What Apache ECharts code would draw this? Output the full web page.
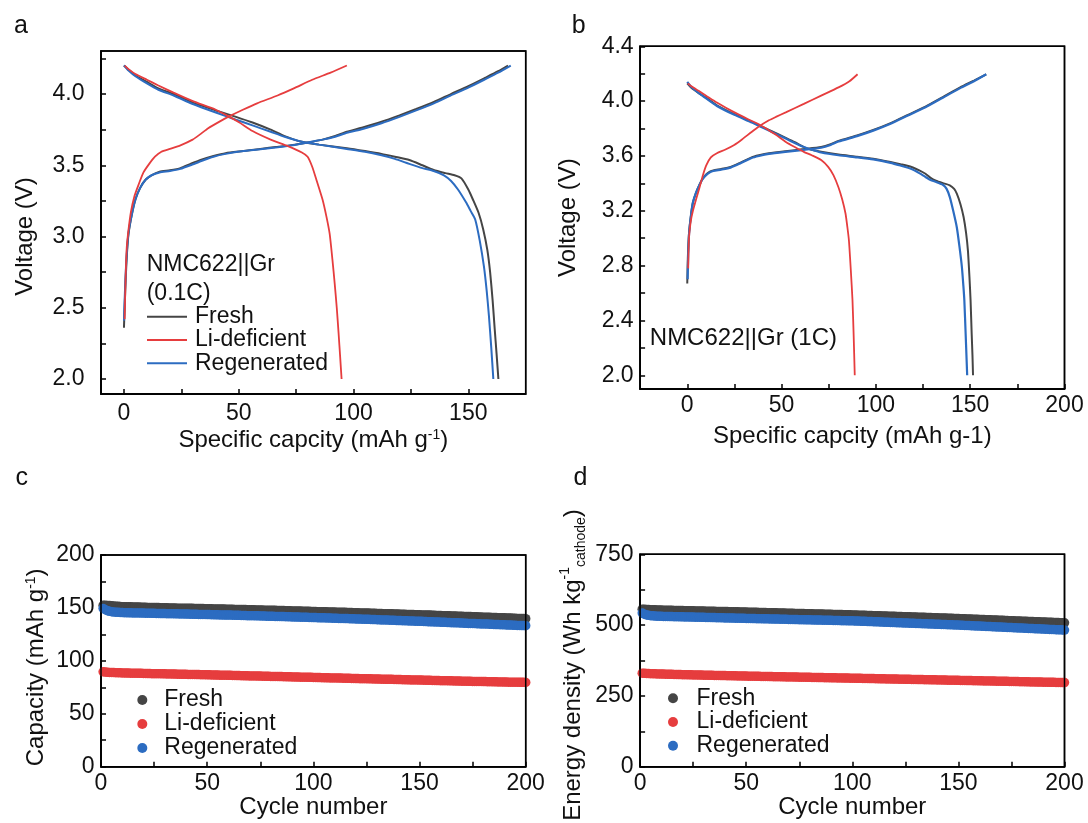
<!DOCTYPE html>
<html>
<head>
<meta charset="utf-8">
<script src="https://cdn.jsdelivr.net/npm/echarts@6/dist/echarts.min.js"></script>
<style>
  html, body { margin: 0; padding: 0; background: #fff; }
  #wrap { position: relative; width: 1088px; height: 823px; }
  #main, #boxes { position: absolute; left: 0; top: 0; width: 1088px; height: 823px; }
  #boxes { pointer-events: none; }
</style>
</head>
<body>
<div id="wrap">
  <div id="main"></div>
  <div id="boxes"></div>
</div>
<script>
// ---- series names, colours ----
const seriesNames = ['Fresh', 'Li-deficient', 'Regenerated'];
const seriesColors = { 'Fresh': '#454545', 'Li-deficient': '#e63d3e', 'Regenerated': '#2c6cc1' };

// ---- panel a: voltage profiles at 0.1C, [capacity mAh/g, voltage V] ----
const aFreshCharge = [[0,2.36],[0.4,2.55],[0.8,2.72],[1.3,2.88],[2,3.02],[3.5,3.16],[5,3.26],[7,3.34],[9.5,3.40],[12,3.43],[15.5,3.455],[20,3.465],[24.6,3.48],[29,3.51],[33.7,3.54],[39,3.565],[44.3,3.585],[52,3.6],[59.4,3.615],[67,3.63],[74.4,3.645],[80,3.66],[86.5,3.68],[92,3.705],[97.1,3.735],[104,3.765],[112.2,3.805],[120,3.85],[127.3,3.895],[135,3.945],[142.4,4.0],[150,4.055],[157.5,4.115],[163,4.16],[167.3,4.2]];
const aRegenCharge = [[0,2.41],[0.4,2.6],[0.8,2.76],[1.3,2.9],[2,3.03],[3.5,3.16],[5,3.26],[7,3.34],[9.5,3.40],[12,3.43],[15.5,3.45],[20,3.46],[24.6,3.475],[29,3.5],[33.7,3.53],[39,3.56],[44.3,3.58],[52,3.6],[59.4,3.612],[67,3.627],[74.4,3.643],[80,3.66],[86.5,3.68],[92,3.7],[97.1,3.728],[104,3.755],[112.2,3.795],[120,3.84],[127.3,3.885],[135,3.935],[142.4,3.99],[150,4.045],[157.5,4.105],[163,4.15],[168.5,4.2]];
const aLiDefCharge = [[0.3,2.42],[0.7,2.7],[1.2,2.92],[2,3.05],[3,3.17],[4.5,3.28],[6.5,3.37],[8.5,3.45],[11,3.51],[13.5,3.56],[16.3,3.595],[20,3.615],[24.6,3.64],[29.9,3.68],[33,3.715],[36.7,3.76],[42,3.81],[46,3.845],[51.8,3.89],[58,3.935],[66.9,3.99],[74,4.04],[82,4.1],[90,4.15],[97.1,4.2]];
const aFreshDischarge = [[0,4.2],[2,4.17],[5,4.13],[10,4.085],[15,4.04],[21.6,4.0],[30,3.94],[40,3.885],[48.8,3.84],[56,3.8],[63.9,3.75],[70,3.705],[77.5,3.665],[85,3.645],[97.1,3.62],[105,3.6],[112.2,3.58],[118,3.56],[124.3,3.537],[130,3.5],[134.9,3.467],[140,3.445],[144,3.43],[147,3.408],[150,3.33],[152,3.26],[154.5,3.165],[156.5,3.05],[158.3,2.905],[159.5,2.75],[160.6,2.55],[161.5,2.35],[162.3,2.18],[163.1,2.0]];
const aRegenDischarge = [[0,4.2],[2,4.165],[5,4.125],[10,4.075],[15,4.03],[21.6,3.99],[30,3.93],[40,3.87],[48.8,3.82],[56,3.78],[63.9,3.735],[70,3.7],[77.5,3.665],[85,3.645],[97.1,3.615],[105,3.595],[112.2,3.57],[118,3.545],[124.3,3.51],[130,3.48],[134.9,3.46],[139.4,3.43],[142.5,3.39],[145.5,3.33],[149,3.24],[151,3.18],[153,3.12],[155,2.97],[156.8,2.79],[158,2.62],[159,2.44],[160,2.22],[160.9,2.0]];
const aLiDefDischarge = [[0.3,4.2],[2,4.175],[5,4.14],[10,4.1],[15,4.06],[21.6,4.01],[30,3.95],[40,3.89],[46,3.84],[50.3,3.8],[56,3.74],[63.9,3.68],[71.4,3.635],[77.5,3.59],[80,3.56],[82,3.49],[84,3.39],[86.5,3.26],[88.2,3.14],[89.6,3.02],[90.8,2.84],[91.8,2.67],[92.7,2.5],[93.5,2.32],[94.2,2.15],[94.8,2.0]];

// ---- panel b: voltage profiles at 1C ----
const bFreshCharge = [[0,2.67],[0.3,2.85],[0.9,3.03],[2,3.17],[3,3.26],[4.6,3.33],[6.5,3.39],[8,3.43],[10,3.465],[12,3.485],[13.8,3.495],[18,3.505],[23,3.52],[28,3.55],[34.1,3.59],[38,3.605],[43.3,3.62],[52,3.635],[61.8,3.65],[71,3.665],[76,3.685],[80.2,3.71],[90,3.75],[98.6,3.79],[107.8,3.84],[117,3.9],[126.3,3.96],[135.5,4.03],[144.7,4.1],[152,4.15],[158.5,4.196]];
const bRegenCharge = [[0.2,2.7],[0.5,2.88],[1,3.04],[2,3.17],[3,3.26],[4.6,3.33],[6.5,3.39],[8,3.43],[10,3.46],[12,3.48],[13.8,3.49],[18,3.5],[23,3.515],[28,3.545],[34.1,3.585],[38,3.6],[43.3,3.615],[52,3.63],[61.8,3.645],[71,3.66],[76,3.68],[80.2,3.705],[90,3.745],[98.6,3.785],[107.8,3.835],[117,3.895],[126.3,3.955],[135.5,4.025],[144.7,4.095],[152,4.145],[158.5,4.196]];
const bLiDefCharge = [[0.5,2.78],[0.9,3.0],[1.8,3.12],[3,3.2],[4.6,3.28],[6.5,3.37],[8.3,3.46],[10,3.53],[12.5,3.59],[15.7,3.62],[20,3.645],[24.9,3.68],[29,3.72],[34.1,3.775],[38,3.815],[43.3,3.86],[47,3.885],[52.5,3.92],[61.8,3.98],[71,4.04],[80.2,4.1],[86,4.145],[90.3,4.196]];
const bFreshDischarge = [[0,4.13],[2,4.1],[6.5,4.055],[10,4.025],[15.7,3.97],[25,3.905],[34.1,3.85],[43.3,3.79],[52.5,3.73],[57,3.7],[61.8,3.665],[66,3.645],[71,3.63],[80.2,3.61],[90,3.595],[98.6,3.58],[107.8,3.556],[113,3.54],[118.9,3.52],[123,3.495],[126.3,3.47],[129,3.44],[131.8,3.42],[136,3.4],[139.2,3.386],[141.5,3.36],[142.9,3.325],[144.8,3.25],[146.5,3.155],[147.8,3.04],[148.8,2.91],[149.6,2.72],[150.2,2.547],[150.8,2.3],[151.2,2.15],[151.5,2.0]];
const bRegenDischarge = [[0,4.14],[2,4.105],[6.5,4.055],[10,4.02],[15.7,3.965],[25,3.9],[34.1,3.845],[43.3,3.785],[52.5,3.725],[57,3.695],[61.8,3.665],[66,3.645],[71,3.625],[80.2,3.605],[90,3.59],[98.6,3.575],[107.8,3.55],[113,3.53],[118.9,3.505],[123,3.475],[126.3,3.447],[129,3.425],[132,3.41],[135.5,3.39],[137.5,3.36],[139.2,3.3],[141,3.2],[142.9,3.08],[144.3,2.94],[145.6,2.79],[146.4,2.65],[146.9,2.547],[147.6,2.3],[148,2.15],[148.4,2.0]];
const bLiDefDischarge = [[0.3,4.13],[2,4.11],[6,4.075],[10,4.04],[15.7,3.99],[24,3.925],[32,3.87],[38.2,3.83],[43,3.79],[47,3.755],[52.5,3.70],[57,3.665],[61.8,3.63],[66,3.605],[71,3.57],[74.7,3.52],[77.5,3.46],[80.2,3.37],[82.2,3.28],[83.9,3.18],[84.9,3.08],[85.7,2.985],[86.7,2.77],[87.6,2.547],[88.2,2.3],[88.8,2.0]];

// ---- panels c, d: cycling, one value per cycle (cycles 1..200) ----
const cFresh = [
152.5,152.6,152.4,152.2,152.0,151.8,151.7,151.5,151.4,151.2,
151.2,151.1,151.1,151.0,150.9,150.9,150.8,150.8,150.7,150.6,
150.6,150.5,150.5,150.4,150.4,150.3,150.3,150.2,150.2,150.1,
150.1,150.0,150.0,149.9,149.9,149.8,149.8,149.8,149.7,149.7,
149.6,149.6,149.6,149.5,149.5,149.5,149.4,149.4,149.3,149.3,
149.2,149.2,149.1,149.1,149.0,149.0,148.9,148.9,148.8,148.8,
148.7,148.7,148.6,148.6,148.5,148.5,148.4,148.4,148.3,148.3,
148.2,148.2,148.1,148.1,148.0,148.0,147.9,147.9,147.8,147.8,
147.7,147.7,147.6,147.6,147.5,147.5,147.4,147.3,147.3,147.2,
147.2,147.1,147.1,147.0,146.9,146.9,146.8,146.8,146.7,146.7,
146.6,146.5,146.5,146.4,146.4,146.3,146.2,146.2,146.1,146.1,
146.0,145.9,145.9,145.8,145.8,145.7,145.6,145.6,145.5,145.4,
145.4,145.3,145.3,145.2,145.1,145.1,145.0,144.9,144.9,144.8,
144.7,144.7,144.6,144.6,144.5,144.4,144.4,144.3,144.2,144.2,
144.1,144.0,144.0,143.9,143.8,143.8,143.7,143.6,143.6,143.5,
143.4,143.4,143.3,143.2,143.2,143.1,143.0,142.9,142.9,142.8,
142.7,142.7,142.6,142.5,142.4,142.4,142.3,142.2,142.1,142.1,
142.0,141.9,141.9,141.8,141.7,141.6,141.6,141.5,141.4,141.3,
141.3,141.2,141.1,141.0,141.0,140.9,140.8,140.7,140.7,140.6,
140.5,140.4,140.4,140.3,140.2,140.1,140.1,140.0,139.9,139.8];
const cLiDef = [
89.6,89.4,89.2,89.1,89.0,88.9,88.8,88.8,88.7,88.6,
88.6,88.5,88.5,88.4,88.4,88.3,88.3,88.2,88.2,88.1,
88.1,88.0,88.0,87.9,87.9,87.8,87.8,87.8,87.7,87.7,
87.6,87.6,87.6,87.5,87.5,87.4,87.4,87.3,87.3,87.3,
87.2,87.2,87.1,87.1,87.0,87.0,86.9,86.9,86.9,86.8,
86.8,86.7,86.7,86.6,86.6,86.5,86.5,86.4,86.4,86.3,
86.3,86.2,86.2,86.1,86.1,86.0,86.0,85.9,85.9,85.8,
85.8,85.7,85.7,85.6,85.6,85.5,85.5,85.4,85.4,85.3,
85.3,85.2,85.2,85.1,85.1,85.0,85.0,84.9,84.9,84.8,
84.8,84.7,84.7,84.6,84.6,84.5,84.5,84.4,84.4,84.3,
84.3,84.2,84.2,84.1,84.1,84.0,84.0,83.9,83.9,83.8,
83.8,83.7,83.7,83.6,83.6,83.5,83.5,83.4,83.4,83.3,
83.3,83.2,83.2,83.1,83.1,83.0,83.0,82.9,82.9,82.8,
82.8,82.7,82.7,82.6,82.6,82.5,82.5,82.4,82.4,82.3,
82.3,82.2,82.2,82.1,82.1,82.0,82.0,81.9,81.9,81.8,
81.8,81.7,81.7,81.6,81.6,81.5,81.5,81.4,81.4,81.3,
81.3,81.2,81.2,81.1,81.1,81.0,81.0,80.9,80.9,80.8,
80.8,80.8,80.7,80.7,80.6,80.6,80.5,80.5,80.5,80.4,
80.4,80.3,80.3,80.3,80.2,80.2,80.1,80.1,80.1,80.0,
80.0,79.9,79.9,79.9,79.8,79.8,79.7,79.7,79.7,79.6];
const cRegen = [
149.5,148.3,147.4,146.8,146.4,146.1,145.9,145.8,145.7,145.6,
145.5,145.5,145.4,145.4,145.3,145.3,145.2,145.2,145.1,145.1,
145.0,145.0,145.0,144.9,144.9,144.8,144.8,144.7,144.7,144.7,
144.6,144.6,144.5,144.5,144.4,144.4,144.3,144.3,144.3,144.2,
144.2,144.1,144.1,144.0,144.0,143.9,143.9,143.8,143.8,143.7,
143.7,143.6,143.6,143.5,143.5,143.4,143.4,143.3,143.3,143.2,
143.2,143.1,143.1,143.0,143.0,142.9,142.9,142.8,142.7,142.7,
142.6,142.6,142.5,142.5,142.4,142.4,142.3,142.2,142.2,142.1,
142.1,142.0,142.0,141.9,141.8,141.8,141.7,141.7,141.6,141.5,
141.5,141.4,141.4,141.3,141.2,141.2,141.1,141.0,141.0,140.9,
140.9,140.8,140.7,140.7,140.6,140.5,140.5,140.4,140.3,140.3,
140.2,140.1,140.1,140.0,139.9,139.9,139.8,139.7,139.7,139.6,
139.5,139.5,139.4,139.3,139.2,139.2,139.1,139.0,139.0,138.9,
138.8,138.7,138.7,138.6,138.5,138.4,138.4,138.3,138.2,138.1,
138.1,138.0,137.9,137.8,137.7,137.7,137.6,137.5,137.4,137.3,
137.3,137.2,137.1,137.0,136.9,136.9,136.8,136.7,136.6,136.5,
136.4,136.4,136.3,136.2,136.1,136.0,135.9,135.9,135.8,135.7,
135.6,135.5,135.4,135.4,135.3,135.2,135.1,135.0,134.9,134.9,
134.8,134.7,134.6,134.5,134.4,134.3,134.3,134.2,134.1,134.0,
133.9,133.8,133.8,133.7,133.6,133.5,133.4,133.3,133.3,133.2];

const dFresh = [
556.2,556.0,555.5,555.0,554.6,554.3,554.0,553.6,553.3,553.0,
552.8,552.6,552.5,552.3,552.1,551.9,551.8,551.6,551.4,551.2,
551.1,550.9,550.7,550.5,550.4,550.2,550.0,549.8,549.7,549.5,
549.3,549.1,549.0,548.8,548.6,548.4,548.3,548.1,547.9,547.7,
547.6,547.4,547.2,547.0,546.9,546.7,546.5,546.3,546.2,546.0,
545.8,545.6,545.4,545.2,545.0,544.8,544.6,544.4,544.2,544.0,
543.8,543.6,543.4,543.2,543.0,542.8,542.6,542.4,542.2,542.0,
541.8,541.6,541.4,541.2,541.0,540.8,540.6,540.4,540.2,540.0,
539.8,539.6,539.4,539.2,539.0,538.8,538.6,538.4,538.2,538.0,
537.8,537.6,537.4,537.2,537.0,536.8,536.6,536.4,536.2,536.0,
535.7,535.5,535.2,535.0,534.7,534.5,534.2,534.0,533.7,533.4,
533.2,532.9,532.7,532.4,532.2,531.9,531.6,531.4,531.1,530.9,
530.6,530.4,530.1,529.8,529.6,529.3,529.1,528.8,528.5,528.3,
528.0,527.8,527.5,527.3,527.0,526.7,526.5,526.2,526.0,525.7,
525.4,525.2,524.9,524.7,524.4,524.1,523.9,523.6,523.4,523.0,
522.7,522.4,522.1,521.8,521.5,521.2,520.9,520.6,520.3,520.0,
519.7,519.4,519.1,518.8,518.5,518.2,517.9,517.6,517.3,517.0,
516.7,516.4,516.1,515.8,515.5,515.2,514.9,514.6,514.3,514.0,
513.7,513.4,513.1,512.8,512.5,512.2,511.9,511.6,511.3,511.0,
510.7,510.4,510.1,509.8,509.5,509.2,508.9,508.6,508.3,508.0];
const dLiDef = [
330.4,329.8,329.3,328.9,328.5,328.2,327.9,327.6,327.4,327.1,
326.9,326.7,326.5,326.3,326.1,325.9,325.7,325.5,325.3,325.1,
324.9,324.7,324.5,324.3,324.2,324.0,323.8,323.6,323.4,323.3,
323.1,322.9,322.7,322.6,322.4,322.2,322.1,321.9,321.7,321.6,
321.4,321.2,321.1,320.9,320.8,320.6,320.4,320.3,320.1,320.0,
319.8,319.7,319.5,319.4,319.2,319.1,318.9,318.8,318.6,318.5,
318.3,318.2,318.0,317.9,317.7,317.6,317.4,317.3,317.1,317.0,
316.8,316.7,316.5,316.4,316.2,316.1,315.9,315.8,315.6,315.5,
315.3,315.2,315.0,314.9,314.7,314.6,314.4,314.3,314.1,314.0,
313.8,313.7,313.5,313.4,313.2,313.1,312.9,312.8,312.6,312.5,
312.3,312.2,312.0,311.9,311.7,311.6,311.4,311.3,311.1,311.0,
310.8,310.7,310.5,310.4,310.2,310.1,309.9,309.8,309.6,309.5,
309.3,309.2,309.0,308.9,308.7,308.6,308.4,308.3,308.1,308.0,
307.8,307.7,307.5,307.4,307.2,307.1,306.9,306.8,306.6,306.5,
306.3,306.2,306.0,305.9,305.7,305.6,305.4,305.3,305.1,305.0,
304.8,304.6,304.5,304.3,304.2,304.0,303.8,303.7,303.5,303.4,
303.2,303.0,302.9,302.7,302.6,302.4,302.2,302.1,301.9,301.8,
301.6,301.4,301.3,301.1,301.0,300.8,300.6,300.5,300.3,300.2,
300.0,299.8,299.7,299.5,299.4,299.2,299.0,298.9,298.7,298.6,
298.4,298.2,298.1,297.9,297.8,297.6,297.4,297.3,297.1,297.0];
const dRegen = [
542.5,538.6,536.0,534.4,533.3,532.6,532.0,531.6,531.3,531.0,
530.8,530.6,530.4,530.2,530.0,529.8,529.6,529.5,529.3,529.1,
528.9,528.7,528.6,528.4,528.2,528.0,527.8,527.7,527.5,527.3,
527.1,526.9,526.8,526.6,526.4,526.2,526.0,525.9,525.7,525.5,
525.3,525.1,525.0,524.8,524.6,524.4,524.3,524.1,523.9,523.7,
523.5,523.4,523.2,523.0,522.8,522.7,522.5,522.3,522.1,522.0,
521.8,521.6,521.4,521.3,521.1,520.9,520.7,520.6,520.4,520.2,
520.0,519.9,519.7,519.5,519.3,519.2,519.0,518.8,518.6,518.5,
518.3,518.1,517.9,517.8,517.6,517.4,517.2,517.1,516.9,516.7,
516.5,516.4,516.2,516.0,515.8,515.7,515.5,515.3,515.1,515.0,
514.7,514.4,514.1,513.8,513.5,513.2,512.9,512.6,512.3,512.0,
511.7,511.4,511.1,510.8,510.5,510.2,509.9,509.6,509.3,509.0,
508.7,508.4,508.1,507.8,507.5,507.2,506.9,506.6,506.3,506.0,
505.7,505.4,505.1,504.8,504.5,504.2,503.9,503.6,503.3,503.0,
502.7,502.4,502.1,501.8,501.5,501.2,500.9,500.6,500.3,500.0,
499.6,499.3,498.9,498.6,498.2,497.9,497.5,497.2,496.8,496.5,
496.1,495.8,495.4,495.1,494.7,494.4,494.0,493.7,493.3,493.0,
492.6,492.3,491.9,491.6,491.2,490.9,490.5,490.2,489.8,489.5,
489.1,488.8,488.4,488.1,487.7,487.4,487.0,486.7,486.3,486.0,
485.6,485.3,484.9,484.6,484.2,483.9,483.5,483.2,482.8,482.5];

// ---- axis ranges and tick positions ----
const axisRanges = [
  { x: [-10, 175], y: [1.895, 4.302] },
  { x: [-25, 200], y: [1.9, 4.4] },
  { x: [0, 200], y: [0, 200] },
  { x: [0, 200], y: [0, 750] }
];
const aXLabels = [0, 50, 100, 150];
const aXTicks = [0, 25, 50, 75, 100, 125, 150];
const aYLabels = [2.0, 2.5, 3.0, 3.5, 4.0];
const aYTicks = [2.0, 2.25, 2.5, 2.75, 3.0, 3.25, 3.5, 3.75, 4.0, 4.25];
const bXLabels = [0, 50, 100, 150, 200];
const bXTicks = [0, 25, 50, 75, 100, 125, 150, 175, 200];
const bYLabels = [2.0, 2.4, 2.8, 3.2, 3.6, 4.0, 4.4];
const bYTicks = [2.0, 2.2, 2.4, 2.6, 2.8, 3.0, 3.2, 3.4, 3.6, 3.8, 4.0, 4.2, 4.4];

const cycles = cFresh.map((_, i) => i + 1);

// ---- layout of the four plot areas (px) ----
const panelBoxes = [
  { left: 101, top: 51, width: 424.7, height: 343 },
  { left: 640.1, top: 46.3, width: 424.4, height: 342.7 },
  { left: 101, top: 555, width: 424.7, height: 211.7 },
  { left: 640.1, top: 554.3, width: 424.4, height: 212.4 }
];

// ---- drawing ----
const FONT = '"Liberation Sans", Arial, Helvetica, sans-serif';
const INK = '#111';
const AXIS_LINE = { show: true, onZero: false, lineStyle: { color: '#000', width: 1.5 } };
const TICK_LINE = { color: '#000', width: 1.5 };

function axisStyle(extra) {
  return Object.assign({
    type: 'value',
    axisLine: AXIS_LINE,
    axisTick: { show: true, inside: true, length: 5, lineStyle: TICK_LINE },
    minorTick: { show: false },
    splitLine: { show: false },
    axisLabel: { fontSize: 23, color: INK, fontFamily: FONT, margin: 6 },
    nameLocation: 'middle',
    nameTextStyle: { fontSize: 24, color: INK, fontFamily: FONT, lineHeight: 24 }
  }, extra);
}

function richName(extraRich) {
  return Object.assign({
    t: { fontSize: 24, lineHeight: 24, color: INK, fontFamily: FONT },
    s: { fontSize: 14, lineHeight: 14, color: INK, fontFamily: FONT, verticalAlign: 'top' },
    b: { fontSize: 14, lineHeight: 14, color: INK, fontFamily: FONT, verticalAlign: 'bottom' }
  }, extraRich || {});
}

function curve(name, data, idx, width) {
  return {
    type: 'line', name, data, xAxisIndex: idx, yAxisIndex: idx,
    showSymbol: false, symbol: 'none', smooth: 0.2,
    lineStyle: { color: seriesColors[name], width },
    itemStyle: { color: seriesColors[name] },
    silent: true
  };
}

function dots(name, values, idx) {
  return {
    type: 'scatter', name, xAxisIndex: idx, yAxisIndex: idx,
    data: values.map((v, i) => [cycles[i], v]),
    symbol: 'circle', symbolSize: 9.5,
    itemStyle: { color: seriesColors[name], opacity: 1 },
    silent: true
  };
}

function label(text, x, y, size) {
  return { type: 'text', x, y, silent: true,
    style: { text, font: size + 'px ' + FONT, fill: INK, verticalAlign: 'middle', textVerticalAlign: 'middle' } };
}

// outline rectangle on a plot-area box
function boxOutline(b) {
  return {
    type: 'rect', silent: true,
    shape: { x: b.left, y: b.top, width: b.width, height: b.height },
    style: { fill: 'rgba(0,0,0,0)', stroke: '#000', lineWidth: 1.5 }
  };
}

const gridBase = { show: true, borderColor: '#000', borderWidth: 1.5, backgroundColor: 'rgba(0,0,0,0)' };

const option = {
  animation: false,
  backgroundColor: '#fff',
  textStyle: { fontFamily: FONT },
  grid: panelBoxes.map(b => Object.assign({}, b, gridBase)),
  xAxis: [
    axisStyle({
      gridIndex: 0, min: axisRanges[0].x[0], max: axisRanges[0].x[1],
      axisTick: { show: true, inside: true, length: 5, customValues: aXTicks, lineStyle: TICK_LINE },
      axisLabel: { customValues: aXLabels, fontSize: 23, color: INK, fontFamily: FONT, margin: 8 },
      name: '{t|Specific capcity (mAh g}{s|-1}{t|)}', nameGap: 34,
      nameTextStyle: { rich: richName() }
    }),
    axisStyle({
      gridIndex: 1, min: axisRanges[1].x[0], max: axisRanges[1].x[1],
      axisTick: { show: true, inside: true, length: 5, customValues: bXTicks, lineStyle: TICK_LINE },
      axisLabel: { customValues: bXLabels, fontSize: 23, color: INK, fontFamily: FONT, margin: 5 },
      name: 'Specific capcity (mAh g-1)', nameGap: 35.5
    }),
    axisStyle({
      gridIndex: 2, min: axisRanges[2].x[0], max: axisRanges[2].x[1], interval: 50,
      minorTick: { show: true, splitNumber: 2, length: 5, lineStyle: TICK_LINE },
      axisLabel: { fontSize: 23, color: INK, fontFamily: FONT, margin: 5 },
      name: 'Cycle number', nameGap: 26
    }),
    axisStyle({
      gridIndex: 3, min: axisRanges[3].x[0], max: axisRanges[3].x[1], interval: 50,
      minorTick: { show: true, splitNumber: 2, length: 5, lineStyle: TICK_LINE },
      axisLabel: { fontSize: 23, color: INK, fontFamily: FONT, margin: 5 },
      name: 'Cycle number', nameGap: 28
    })
  ],
  yAxis: [
    axisStyle({
      gridIndex: 0, min: axisRanges[0].y[0], max: axisRanges[0].y[1],
      axisTick: { show: true, inside: true, length: 5, customValues: aYTicks, lineStyle: TICK_LINE },
      axisLabel: { customValues: aYLabels, fontSize: 23, color: INK, fontFamily: FONT, margin: 16.5,
        formatter: v => v.toFixed(1) },
      name: 'Voltage (V)', nameGap: 64,
      nameTextStyle: { fontSize: 24, color: INK, fontFamily: FONT, lineHeight: 24, padding: [0, 28, 0, 0] }
    }),
    axisStyle({
      gridIndex: 1, min: axisRanges[1].y[0], max: axisRanges[1].y[1],
      axisTick: { show: true, inside: true, length: 5, customValues: bYTicks, lineStyle: TICK_LINE },
      axisLabel: { customValues: bYLabels, fontSize: 23, color: INK, fontFamily: FONT, margin: 6.5,
        formatter: v => v.toFixed(1) },
      name: 'Voltage (V)', nameGap: 60
    }),
    axisStyle({
      gridIndex: 2, min: axisRanges[2].y[0], max: axisRanges[2].y[1], interval: 50,
      minorTick: { show: true, splitNumber: 2, length: 5, lineStyle: TICK_LINE },
      axisLabel: { fontSize: 23, color: INK, fontFamily: FONT, margin: 6.5 },
      name: '{t|Capacity (mAh g}{s|-1}{t|)}', nameGap: 52.5,
      nameTextStyle: { rich: richName(), padding: [0, 13, 0, 0] }
    }),
    axisStyle({
      gridIndex: 3, min: axisRanges[3].y[0], max: axisRanges[3].y[1], interval: 250,
      minorTick: { show: true, splitNumber: 2, length: 5, lineStyle: TICK_LINE },
      axisLabel: { fontSize: 23, color: INK, fontFamily: FONT, margin: 6.5 },
      name: '{t|Energy density (Wh kg}{s|-1}{b|cathode}{t|)}', nameGap: 52,
      nameTextStyle: {
        rich: richName({ t: { fontSize: 24, lineHeight: 30, color: INK, fontFamily: FONT } }),
        padding: [0, 9, 0, 0]
      }
    })
  ],
  legend: [
    {
      data: seriesNames, orient: 'vertical', left: 147, top: 305, padding: 0,
      icon: 'rect', itemWidth: 40, itemHeight: 2, itemGap: 0, selectedMode: false,
      textStyle: { fontSize: 23, lineHeight: 23.3, color: INK, fontFamily: FONT, padding: [0, 0, 0, 3] }
    },
    {
      data: seriesNames, orient: 'vertical', left: 137.3, top: 688, padding: 0,
      icon: 'circle', itemWidth: 10, itemHeight: 10, itemGap: 0, selectedMode: false,
      textStyle: { fontSize: 23, lineHeight: 24, color: INK, fontFamily: FONT, padding: [0, 0, 0, 12] }
    },
    {
      data: seriesNames, orient: 'vertical', left: 668, top: 686.3, padding: 0,
      icon: 'circle', itemWidth: 10, itemHeight: 10, itemGap: 0, selectedMode: false,
      textStyle: { fontSize: 23, lineHeight: 23.8, color: INK, fontFamily: FONT, padding: [0, 0, 0, 13.5] }
    }
  ],
  graphic: [
    label('a', 13.9, 25.8, 25),
    label('b', 571.8, 25.8, 25),
    label('c', 15.6, 478, 25),
    label('d', 573.5, 478, 25),
    label('NMC622||Gr', 146.7, 265, 23),
    label('(0.1C)', 146.7, 293.3, 23),
    label('NMC622||Gr (1C)', 649.8, 338.3, 24)
  ],
  series: [
    curve('Fresh', aFreshCharge, 0, 2),
    curve('Fresh', aFreshDischarge, 0, 2),
    curve('Regenerated', aRegenCharge, 0, 2),
    curve('Regenerated', aRegenDischarge, 0, 2),
    curve('Li-deficient', aLiDefCharge, 0, 1.8),
    curve('Li-deficient', aLiDefDischarge, 0, 1.8),
    curve('Fresh', bFreshCharge, 1, 2),
    curve('Fresh', bFreshDischarge, 1, 2),
    curve('Regenerated', bRegenCharge, 1, 2.2),
    curve('Regenerated', bRegenDischarge, 1, 2.2),
    curve('Li-deficient', bLiDefCharge, 1, 1.8),
    curve('Li-deficient', bLiDefDischarge, 1, 1.8),
    dots('Fresh', cFresh, 2),
    dots('Li-deficient', cLiDef, 2),
    dots('Regenerated', cRegen, 2),
    dots('Fresh', dFresh, 3),
    dots('Li-deficient', dLiDef, 3),
    dots('Regenerated', dRegen, 3)
  ]
};

const chart = echarts.init(document.getElementById('main'), null, { renderer: 'canvas' });
chart.setOption(option);

// Plot-area outlines on their own transparent layer above the chart.
const boxLayer = echarts.init(document.getElementById('boxes'), null, { renderer: 'canvas' });
boxLayer.setOption({
  animation: false,
  graphic: panelBoxes.map(boxOutline)
});
</script>
</body>
</html>
